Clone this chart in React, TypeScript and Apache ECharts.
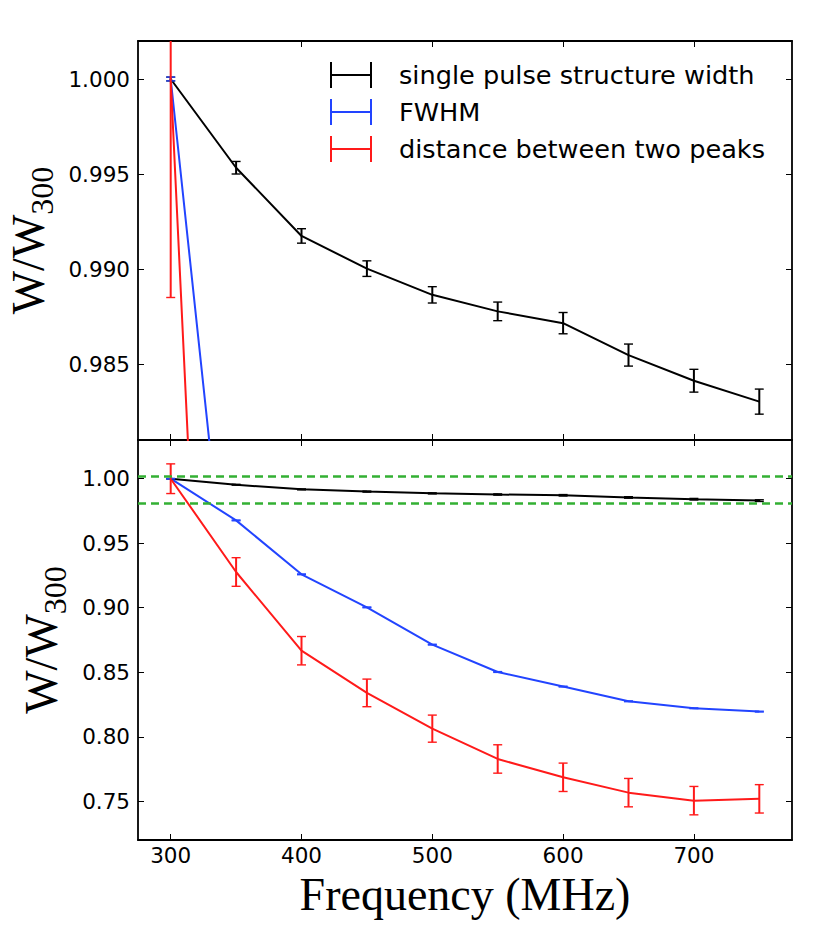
import React, { useEffect, useRef } from "react";
import * as echarts from "echarts";

// ---- data ----
const freqs = [300, 350, 400, 450, 500, 550, 600, 650, 700, 750];
const singleWidth = [1.0, 0.99533, 0.99174, 0.99002, 0.98864, 0.98777, 0.98715, 0.98547, 0.98412, 0.98302];
const singleErr = [0.0001, 0.00033, 0.00038, 0.00041, 0.00043, 0.00049, 0.00056, 0.00058, 0.0006, 0.00066];
const fwhm = [1.0, 0.9677, 0.9259, 0.9003, 0.8714, 0.8502, 0.8389, 0.8275, 0.8221, 0.8195];
const fwhmErr = [0.0001, 0.0003, 0.0003, 0.0003, 0.0003, 0.0003, 0.0003, 0.0003, 0.0003, 0.0003];
const peakDist = [1.0, 0.9277, 0.8667, 0.834, 0.8063, 0.7828, 0.7686, 0.7567, 0.7505, 0.7519];
const peakErr = [0.0115, 0.0111, 0.011, 0.0107, 0.0105, 0.011, 0.011, 0.011, 0.011, 0.011];
const zoomBand = [1.002, 0.981];

const xTicks = [300, 400, 500, 600, 700];
const yTicksTop = [0.985, 0.99, 0.995, 1.0];
const yTicksBottom = [0.75, 0.8, 0.85, 0.9, 0.95, 1.0];

const seriesNames = ["single pulse structure width", "FWHM", "distance between two peaks"];
const seriesColors = ["#000000", "#2244ff", "#ff1a1a"];

const TICK_FONT = "DejaVu Sans";
const TITLE_FONT = "Liberation Serif";

function errorBarRender(color: string) {
  return (params: any, api: any) => {
    const x = api.value(0);
    const lo = api.coord([x, api.value(1)]);
    const hi = api.coord([x, api.value(2)]);
    const hw = 4.5;
    return {
      type: "group",
      children: [
        { type: "line", shape: { x1: lo[0], y1: lo[1], x2: hi[0], y2: hi[1] }, style: { stroke: color, lineWidth: 2 } },
        { type: "line", shape: { x1: lo[0] - hw, y1: lo[1], x2: lo[0] + hw, y2: lo[1] }, style: { stroke: color, lineWidth: 1.4 } },
        { type: "line", shape: { x1: hi[0] - hw, y1: hi[1], x2: hi[0] + hw, y2: hi[1] }, style: { stroke: color, lineWidth: 1.4 } },
      ],
    };
  };
}

export default function App() {
  const ref = useRef<HTMLDivElement>(null);
  useEffect(() => {
    if (!ref.current) return;
    const chart = echarts.init(ref.current, undefined, { renderer: "svg" });
    const values = [singleWidth, fwhm, peakDist];
    const errs = [singleErr, fwhmErr, peakErr];

    const frame = { show: true, lineStyle: { color: "#000", width: 1.8 } };
    const makeX = (gridIndex: number, position: string, showLabels: boolean, name?: string) => ({
      type: "value",
      gridIndex,
      position,
      min: 275,
      max: 775,
      axisLine: { ...frame, onZero: false },
      splitLine: { show: false },
      axisTick: { show: true, inside: true, length: 6, lineStyle: { color: "#000", width: 1 }, customValues: xTicks },
      axisLabel: {
        show: showLabels,
        customValues: xTicks,
        margin: 4,
        color: "#000",
        fontFamily: TICK_FONT,
        fontSize: 21.5,
      },
      name: name || "",
      nameLocation: "middle",
      nameGap: 35,
      nameTextStyle: { fontFamily: TITLE_FONT, fontSize: 46, lineHeight: 38, color: "#000" },
    });
    const makeY = (
      gridIndex: number,
      position: string,
      showLabels: boolean,
      min: number,
      max: number,
      ticks: number[],
      digits: number,
      nameGap: number
    ) => ({
      type: "value",
      gridIndex,
      position,
      min,
      max,
      axisLine: { ...frame, onZero: false },
      splitLine: { show: false },
      axisTick: { show: true, inside: true, length: 6, lineStyle: { color: "#000", width: 1 }, customValues: ticks },
      axisLabel: {
        show: showLabels,
        customValues: ticks,
        margin: 8,
        color: "#000",
        fontFamily: TICK_FONT,
        fontSize: 21.5,
        formatter: (v: number) => v.toFixed(digits),
      },
      name: showLabels ? "{a|W/W}{b|300}" : "",
      nameLocation: "middle",
      nameRotate: 90,
      nameGap,
      nameTextStyle: {
        color: "#000",
        fontFamily: TITLE_FONT,
        fontSize: 46,
        rich: {
          a: { fontFamily: TITLE_FONT, fontSize: 46, lineHeight: 46, verticalAlign: "middle", color: "#000" },
          b: {
            fontFamily: TITLE_FONT,
            fontSize: 32,
            lineHeight: 32,
            padding: [27, 0, 0, 0],
            verticalAlign: "middle",
            color: "#000",
          },
        },
      },
    });

    const series: any[] = [];
    [0, 1].forEach((g) => {
      values.forEach((vals, k) => {
        const line: any = {
          type: "line",
          name: seriesNames[k],
          xAxisIndex: g * 2,
          yAxisIndex: g * 2,
          data: freqs.map((f, i) => [f, vals[i]]),
          showSymbol: false,
          symbol: "none",
          lineStyle: { color: seriesColors[k], width: 2 },
          itemStyle: { color: seriesColors[k] },
          clip: true,
          z: 3,
        };
        if (g === 1 && k === 0) {
          line.markLine = {
            silent: true,
            precision: 3,
            symbol: ["none", "none"],
            label: { show: false },
            lineStyle: { color: "#33b033", width: 2.5, type: [8, 5] },
            data: zoomBand.map((v) => ({ yAxis: v })),
          };
        }
        series.push(line);
        series.push({
          type: "custom",
          name: seriesNames[k],
          xAxisIndex: g * 2,
          yAxisIndex: g * 2,
          clip: true,
          data: freqs.map((f, i) => [f, vals[i] - errs[k][i], vals[i] + errs[k][i]]),
          encode: { x: 0, y: [1, 2] },
          renderItem: errorBarRender(seriesColors[k]),
          itemStyle: { color: seriesColors[k] },
          z: 4,
        });
      });
    });

    const iconPath = "path://M0,0h2v26h-2zM0,12h42v2h-42zM40,0h2v26h-2z";

    chart.setOption({
      animation: false,
      backgroundColor: "#fff",
      grid: [
        { left: 138, right: 39, top: 41, height: 399, outerBoundsMode: "none", containLabel: false },
        { left: 138, right: 39, top: 440, height: 400, outerBoundsMode: "none", containLabel: false },
      ],
      xAxis: [
        makeX(0, "bottom", false),
        makeX(0, "top", false),
        makeX(1, "bottom", true, "Frequency (MHz)"),
        makeX(1, "top", false),
      ],
      yAxis: [
        makeY(0, "left", true, 0.981, 1.002, yTicksTop, 3, 71),
        makeY(0, "right", false, 0.981, 1.002, yTicksTop, 3, 71),
        makeY(1, "left", true, 0.72, 1.03, yTicksBottom, 2, 56),
        makeY(1, "right", false, 0.72, 1.03, yTicksBottom, 2, 56),
      ],
      legend: {
        orient: "vertical",
        left: 325,
        top: 57,
        itemWidth: 42,
        itemHeight: 26,
        itemGap: 11,
        selectedMode: false,
        textStyle: {
          fontFamily: TICK_FONT,
          fontSize: 25.6,
          lineHeight: 26,
          color: "#000",
          padding: [0, 0, 0, 22],
        },
        data: seriesNames.map((n, k) => ({
          name: n,
          icon: iconPath,
          itemStyle: { color: seriesColors[k], borderWidth: 0 },
        })),
      },
      series,
    });
    return () => chart.dispose();
  }, []);
  return (
    <div
      ref={ref}
      style={{ position: "absolute", left: 0, top: 0, width: 831, height: 929, background: "#fff" }}
    />
  );
}
